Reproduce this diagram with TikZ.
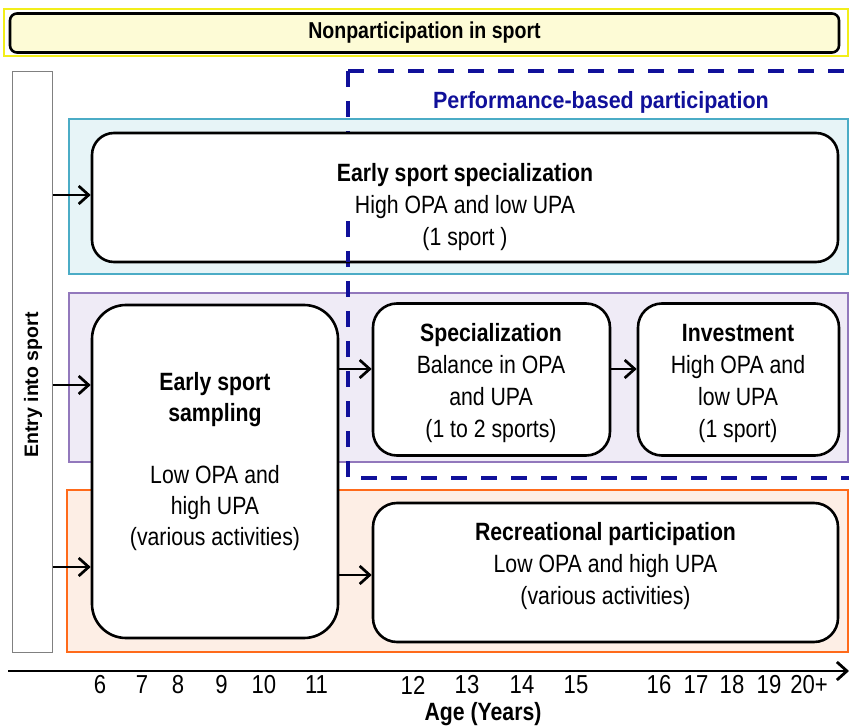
\documentclass[tikz,border=0pt]{standalone}
\usepackage{fontspec}
\setmainfont{Liberation Sans}[FakeStretch=0.85]
\newfontfamily\perffont{Liberation Sans}[FakeStretch=0.915]
\newfontfamily\entryfont{Liberation Sans}
\usetikzlibrary{arrows.meta}
\definecolor{titlefill}{HTML}{FDFBD6}
\definecolor{framey}{HTML}{F2EE1A}
\definecolor{cyanfill}{HTML}{E7F4F7}
\definecolor{cyanline}{HTML}{4BACC6}
\definecolor{purplefill}{HTML}{EFEBF6}
\definecolor{purpleline}{HTML}{9278BC}
\definecolor{orangefill}{HTML}{FDEEE5}
\definecolor{orangeline}{HTML}{FF6A1A}
\definecolor{perfblue}{HTML}{10109A}
\definecolor{entrygray}{HTML}{808080}
\begin{document}
\begin{tikzpicture}[x=1pt,y=-1pt,
  wbox/.style={draw=black, line width=2.6pt, fill=white, rounded corners=#1, inner sep=0pt},
  wbox/.default=22pt,
  txt/.style={align=center, inner sep=0pt, font=\fontsize{25}{32}\selectfont},
  arr/.style={line width=2.7pt, -{Straight Barb[length=10pt,width=18pt]}},
  perfdash/.style={draw=perfblue, line width=3.5pt, dash pattern=on 16pt off 14pt},
  band/.style={line width=1.4pt},
  tick/.style={inner sep=0pt, font=\fontsize{26}{28}\selectfont}
]
\useasboundingbox (0,0) rectangle (849,727);
\fill[white] (0,0) rectangle (849,727);

% top bar
\draw[framey, line width=1.2pt] (4,9) rectangle (848,56);
\node[draw=black, line width=2.6pt, rounded corners=7pt, fill=titlefill,
      minimum width=829pt, minimum height=39pt, inner sep=0pt] (nonpart) at (424.5,33)
      {\bfseries\fontsize{23}{24}\selectfont Nonparticipation in sport};

% entry box
\node[draw=entrygray, line width=1pt, minimum width=40pt, minimum height=580pt, inner sep=0pt] (entry) at (32,362) {};
\node[rotate=90, inner sep=0pt, font=\entryfont\bfseries\fontsize{19.5}{22}\selectfont] (entrytxt) at (33,385) {Entry into sport};

% bands
\filldraw[band, fill=cyanfill, draw=cyanline] (69,119) rectangle (848,274);
\filldraw[band, fill=purplefill, draw=purpleline] (69,293) rectangle (848,462);
\filldraw[band, fill=orangefill, draw=orangeline] (67,490) rectangle (848,652);

% performance-based region
\coordinate (pc) at (348,71);
\coordinate (pr) at (852,71);
\coordinate (pb) at (348,478);
\coordinate (pbr) at (852,478);
\draw[perfdash] (pc) -- (pr);
\draw[perfdash] (pc) -- (pb) -- (pbr);
\node[text=perfblue, inner sep=0pt, font=\perffont\bfseries\fontsize{23.5}{28}\selectfont] (perf) at (601,102) {Performance-based participation};

% white boxes
\node[wbox=22pt, minimum width=746pt, minimum height=129pt] (espec) at (465,197.5) {};
\node[wbox=34pt, minimum width=246pt, minimum height=333pt] (sampling) at (215,471.5) {};
\node[wbox=24pt, minimum width=237pt, minimum height=152pt] (spec) at (491.5,379.5) {};
\node[wbox=24pt, minimum width=201pt, minimum height=152pt] (invest) at (738.5,379.5) {};
\node[wbox=24pt, minimum width=465pt, minimum height=139pt] (recre) at (605.5,572.5) {};

% visible part of the dashed line inside the early specialization box
\begin{scope}
  \clip (338,222) rectangle (358,262);
  \draw[perfdash] (pc) -- (pb);
\end{scope}

% texts
\node[txt] (espectxt) at (465,207) {\textbf{Early sport specialization}\\High OPA and low UPA\\(1 sport )};
\node[txt, font=\fontsize{25}{31}\selectfont] (samptxt) at (215,462) {\textbf{Early sport}\\\textbf{sampling}\\[31pt]Low OPA and\\high UPA\\(various activities)};
\node[txt] (spectxt) at (491,383) {\textbf{Specialization}\\Balance in OPA\\and UPA\\(1 to 2 sports)};
\node[txt] (investtxt) at (738,383) {\textbf{Investment}\\High OPA and\\low UPA\\(1 sport)};
\node[txt] (recretxt) at (605.5,566) {\textbf{Recreational participation}\\Low OPA and high UPA\\(various activities)};

% arrows
\coordinate (r1) at (0,195);
\coordinate (r2) at (0,385);
\coordinate (r3) at (0,567);
\coordinate (r4) at (0,369);
\coordinate (r5) at (0,575);
\draw[arr] (entry.east |- r1) -- (espec.west |- r1);
\draw[arr] (entry.east |- r2) -- (sampling.west |- r2);
\draw[arr] (entry.east |- r3) -- (sampling.west |- r3);
\draw[arr] (sampling.east |- r4) -- (spec.west |- r4);
\draw[arr] (spec.east |- r4) -- (invest.west |- r4);
\draw[arr] (sampling.east |- r5) -- (recre.west |- r5);

% axis
\coordinate (axs) at (8,671);
\coordinate (axe) at (849,671);
\draw[arr, line width=2.8pt] (axs) -- (axe);
\foreach \x/\t [count=\i] in {100/6,142/7,178/8,221.5/9,264/10,316.5/11,413/12,467/13,522/14,576/15,659/16,696/17,732/18,769/19,809/20+}
  \node[tick] (tick\i) at (\x,685) {\t};
\node[inner sep=0pt, font=\bfseries\fontsize{25}{30}\selectfont] (agelbl) at (483,714) {Age (Years)};
\end{tikzpicture}
\end{document}
